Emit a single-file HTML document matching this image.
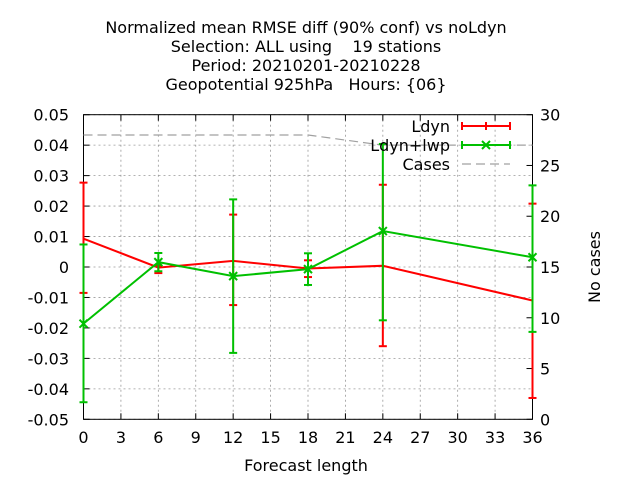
<!DOCTYPE html>
<html><head><meta charset="utf-8"><style>
body{margin:0;background:#fff}
svg text{font-family:"DejaVu Sans","Liberation Sans",sans-serif;font-size:16px;fill:#000;white-space:pre}
</style></head><body>
<svg id="chart" width="640" height="480" xmlns="http://www.w3.org/2000/svg">
<g text-anchor="middle">
<text x="306" y="33">Normalized mean RMSE diff (90% conf) vs noLdyn</text>
<text x="306" y="52">Selection: ALL using    19 stations</text>
<text x="306" y="71">Period: 20210201-20210228</text>
<text x="306" y="90">Geopotential 925hPa   Hours: {06}</text>
</g>
<g id="grid"></g>
<g id="axes"></g>
<g id="series"></g>
<text x="306" y="471" text-anchor="middle">Forecast length</text>
<text transform="translate(600,267) rotate(-90)" text-anchor="middle">No cases</text>
<g text-anchor="end">
<text x="450" y="132">Ldyn</text>
<text x="450" y="151">Ldyn+lwp</text>
<text x="450" y="170">Cases</text>
</g>
</svg>
<script>
const xs=[0,6,12,18,24,36];
const ldyn=[0.0093,-0.0002,0.002,-0.0005,0.0004,-0.011];
const ldynHi=[0.0277,0.0005,0.0172,0.0022,0.027,0.0208];
const ldynLo=[-0.0085,-0.002,-0.0125,-0.0033,-0.026,-0.043];
const lwp=[-0.0186,0.0016,-0.003,-0.0007,0.0118,0.0032];
const lwpHi=[0.0074,0.0046,0.0222,0.0045,0.0404,0.0268];
const lwpLo=[-0.0444,-0.0014,-0.0282,-0.0059,-0.0175,-0.0213];
const cases=[28,28,28,28,27,27];
const xTicks=[0,3,6,9,12,15,18,21,24,27,30,33,36];
const yTicks=[-0.05,-0.04,-0.03,-0.02,-0.01,0,0.01,0.02,0.03,0.04,0.05];
const yLabels=["-0.05","-0.04","-0.03","-0.02","-0.01","0","0.01","0.02","0.03","0.04","0.05"];
const y2Ticks=[0,5,10,15,20,25,30];
const L=83.5,R=532.5,T=114.7,B=419.3;
const X=v=>L+(v/36)*(R-L);
const Y=v=>B-(v+0.05)/0.1*(B-T);
const Y2=v=>B-v/30*(B-T);
const NS='http://www.w3.org/2000/svg';
function mk(p,t,a){const e=document.createElementNS(NS,t);for(const k in a)e.setAttribute(k,a[k]);p.appendChild(e);return e;}
const grid=document.getElementById('grid'),axes=document.getElementById('axes'),ser=document.getElementById('series');
xTicks.forEach(v=>{const l=mk(grid,'line',{x1:X(v),x2:X(v),y1:T,y2:B,stroke:'#999','stroke-dasharray':'2,3','stroke-width':0.8});

mk(axes,'line',{x1:X(v),x2:X(v),y1:B,y2:B-6,stroke:'#000'});mk(axes,'line',{x1:X(v),x2:X(v),y1:T,y2:T+6,stroke:'#000'});
const t=mk(axes,'text',{x:X(v),y:443,'text-anchor':'middle'});t.textContent=v;
});
yTicks.forEach((v,i)=>{const l=mk(grid,'line',{x1:L,x2:R,y1:Y(v),y2:Y(v),stroke:'#999','stroke-dasharray':'2,3','stroke-width':0.8});

mk(axes,'line',{x1:L,x2:L+6,y1:Y(v),y2:Y(v),stroke:'#000'});
const t=mk(axes,'text',{x:69,y:Y(v)+6,'text-anchor':'end'});t.textContent=yLabels[i];
});
y2Ticks.forEach(v=>{mk(axes,'line',{x1:R,x2:R-6,y1:Y2(v),y2:Y2(v),stroke:'#000'});
const t=mk(axes,'text',{x:540,y:Y2(v)+6});t.textContent=v;
});
mk(axes,'rect',{x:L,y:T,width:R-L,height:B-T,fill:'none',stroke:'#000'});
const cl=mk(ser,'polyline',{points:xs.map((x,i)=>X(x)+','+Y2(cases[i])).join(' '),fill:'none',stroke:'#a0a0a0','stroke-dasharray':'9,5','stroke-width':1.2});

function series(vals,hi,lo,col,name,cross){
 const pl=mk(ser,'polyline',{points:xs.map((x,i)=>X(x)+','+Y(vals[i])).join(' '),fill:'none',stroke:col,'stroke-width':2});
 
 xs.forEach((x,i)=>{const g=mk(ser,'g',{stroke:col,'stroke-width':2});
  
  const cx=X(x);mk(g,'line',{x1:cx,x2:cx,y1:Y(hi[i]),y2:Y(lo[i])});
  mk(g,'line',{x1:cx-4,x2:cx+4,y1:Y(hi[i]),y2:Y(hi[i])});mk(g,'line',{x1:cx-4,x2:cx+4,y1:Y(lo[i]),y2:Y(lo[i])});
  if(cross){const cy=Y(vals[i]);mk(g,'path',{d:`M${cx-4},${cy-4}L${cx+4},${cy+4}M${cx-4},${cy+4}L${cx+4},${cy-4}`});}});
}
series(ldyn,ldynHi,ldynLo,'#ff0000','ldyn',false);
series(lwp,lwpHi,lwpLo,'#00c000','ldyn-lwp',true);
const lg=mk(ser,'g',{'stroke-width':2});

mk(lg,'line',{x1:462,x2:510,y1:126,y2:126,stroke:'#ff0000'});
[462,486,510].forEach(x=>mk(lg,'line',{x1:x,x2:x,y1:122,y2:130,stroke:'#ff0000'}));
mk(lg,'line',{x1:462,x2:510,y1:145,y2:145,stroke:'#00c000'});
[462,510].forEach(x=>mk(lg,'line',{x1:x,x2:x,y1:141,y2:149,stroke:'#00c000'}));
mk(lg,'path',{d:'M482,141L490,149M482,149L490,141',stroke:'#00c000'});
mk(lg,'line',{x1:462,x2:510,y1:164,y2:164,stroke:'#a0a0a0','stroke-dasharray':'9,5','stroke-width':1.2});
</script>
</body></html>
